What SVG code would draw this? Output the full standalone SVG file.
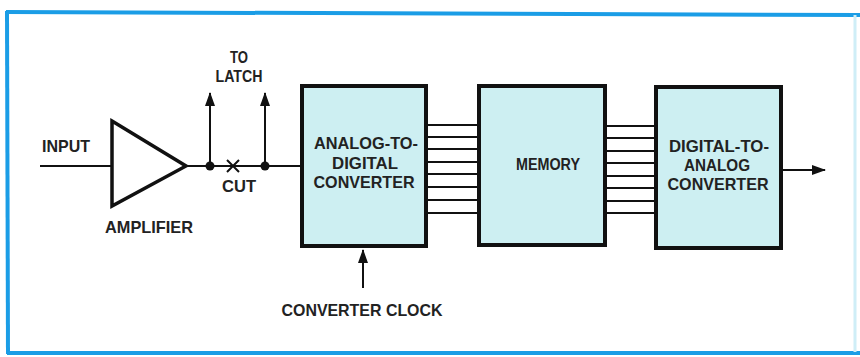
<svg xmlns="http://www.w3.org/2000/svg" width="860" height="357" viewBox="0 0 860 357">
<style>
.t{font-family:"Liberation Sans",Arial,sans-serif;font-weight:bold;font-size:16.5px;fill:#222;text-anchor:middle}
.box{fill:#cdeff2;stroke:#111;stroke-width:4}
.ln{stroke:#111;stroke-width:2;fill:none}
.bus{stroke:#111;stroke-width:1.8}
</style>
<defs>
<marker id="ah" viewBox="0 0 14 10" refX="13" refY="5" markerWidth="14" markerHeight="10" markerUnits="userSpaceOnUse" orient="auto">
<path d="M0,0 L14,5 L0,10 Z" fill="#111"/>
</marker>
</defs>
<rect width="860" height="357" fill="#fff"/>
<g id="frame" fill="none">
<path d="M6,12 L860,15" stroke="#1a9de6" stroke-width="4"/>
<path d="M7,11 L8,354" stroke="#1a9de6" stroke-width="4"/>
<path d="M7,353 L860,353" stroke="#1a9de6" stroke-width="4"/>
<path d="M855,15 L855,352" stroke="#cfeef7" stroke-width="3"/>
</g>
<g id="connectors">
<path class="ln" d="M40,166 H112"/>
<path class="ln" d="M186,166 H300"/>
<path class="ln" d="M210,166 V93" marker-end="url(#ah)"/>
<path class="ln" d="M265,166 V93" marker-end="url(#ah)"/>
<circle cx="210" cy="166" r="4.5" fill="#111"/>
<circle cx="265" cy="166" r="4.5" fill="#111"/>
<path class="ln" d="M227,160 L239,172 M239,160 L227,172"/>
<path class="ln" d="M363,288 V250" marker-end="url(#ah)"/>
<g id="bus1">
<path class="bus" d="M428,125 H477 M428,137 H477 M428,149 H477 M428,162 H477 M428,174 H477 M428,187 H477 M428,200 H477 M428,213 H477"/>
</g>
<g id="bus2">
<path class="bus" d="M607,126 H654 M607,138 H654 M607,151 H654 M607,163 H654 M607,176 H654 M607,188 H654 M607,201 H654 M607,213 H654"/>
</g>
<path class="ln" d="M783,170 H825" marker-end="url(#ah)"/>
</g>
<g id="input"><text class="t" x="66" y="152" textLength="48" lengthAdjust="spacingAndGlyphs">INPUT</text></g>
<g id="amplifier">
<path d="M112,121 L186,166 L112,206 Z" fill="#fff" stroke="#111" stroke-width="3.5" stroke-linejoin="miter"/>
<text class="t" x="149" y="233" textLength="88" lengthAdjust="spacingAndGlyphs">AMPLIFIER</text>
</g>
<g id="latch">
<text class="t" x="239" y="63" textLength="18" lengthAdjust="spacingAndGlyphs">TO</text>
<text class="t" x="239" y="82" textLength="47" lengthAdjust="spacingAndGlyphs">LATCH</text>
</g>
<g id="cut"><text class="t" x="239" y="192" textLength="34" lengthAdjust="spacingAndGlyphs">CUT</text></g>
<g id="adc">
<rect class="box" x="302" y="86" width="124" height="160"/>
<text class="t" x="366" y="149" textLength="104" lengthAdjust="spacingAndGlyphs">ANALOG-TO-</text>
<text class="t" x="365" y="168.5" textLength="66" lengthAdjust="spacingAndGlyphs">DIGITAL</text>
<text class="t" x="364" y="188" textLength="101" lengthAdjust="spacingAndGlyphs">CONVERTER</text>
</g>
<g id="memory">
<rect class="box" x="479" y="86" width="126" height="159"/>
<text class="t" x="548" y="170" textLength="64" lengthAdjust="spacingAndGlyphs">MEMORY</text>
</g>
<g id="dac">
<rect class="box" x="656" y="87" width="125" height="161"/>
<text class="t" x="719" y="152" textLength="100" lengthAdjust="spacingAndGlyphs">DIGITAL-TO-</text>
<text class="t" x="717" y="171" textLength="66" lengthAdjust="spacingAndGlyphs">ANALOG</text>
<text class="t" x="718" y="190" textLength="101" lengthAdjust="spacingAndGlyphs">CONVERTER</text>
</g>
<g id="clock"><text class="t" x="362" y="316" textLength="161" lengthAdjust="spacingAndGlyphs">CONVERTER CLOCK</text></g>
</svg>
